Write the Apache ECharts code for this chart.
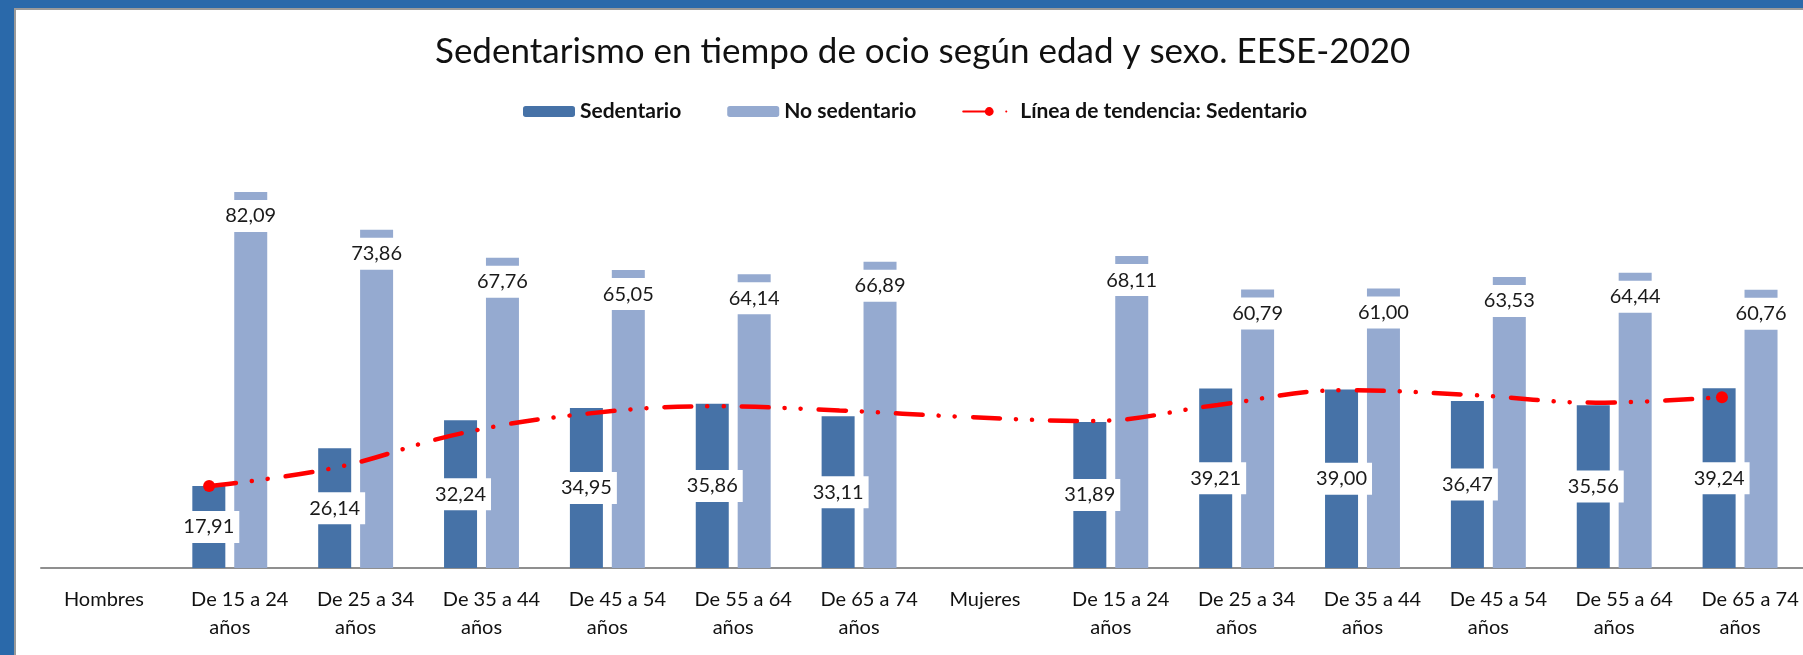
<!DOCTYPE html>
<html lang="es">
<head>
    <meta charset="UTF-8">
    <title>Sedentarismo EESE-2020</title>
    <script src="https://cdn.jsdelivr.net/npm/echarts/dist/echarts.min.js"></script>
    <style>
        html, body { margin: 0; padding: 0; }
        body { width: 1803px; height: 655px; background: #2A69AA; position: relative; overflow: hidden; }
        #main {
            position: absolute; left: 14px; top: 8px;
            width: 1787px; height: 645px;
            background: #fff;
            border-left: 2px solid #9a9a9a; border-top: 2px solid #9a9a9a;
        }
    </style>
</head>
<body>
<div id="main"></div>
<script type="text/javascript">
    // categorias del eje x (el salto de linea separa "años")
    var categorias = ['Hombres', 'De 15 a 24\naños', 'De 25 a 34\naños', 'De 35 a 44\naños', 'De 45 a 54\naños',
        'De 55 a 64\naños', 'De 65 a 74\naños', 'Mujeres', 'De 15 a 24\naños', 'De 25 a 34\naños',
        'De 35 a 44\naños', 'De 45 a 54\naños', 'De 55 a 64\naños', 'De 65 a 74\naños'];
    var sedentario = [null, 17.91, 26.14, 32.24, 34.95, 35.86, 33.11, null, 31.89, 39.21, 39.00, 36.47, 35.56, 39.24];
    var noSedentario = [null, 82.09, 73.86, 67.76, 65.05, 64.14, 66.89, null, 68.11, 60.79, 61.00, 63.53, 64.44, 60.76];
    var tendencia = [null, 17.9, 21.9, 29.4, 33.7, 35.3, 34.4, 33.0, 32.1, 35.6, 38.8, 37.8, 36.1, 37.3];

    var fuente = 'Lato';
    var myChart = echarts.init(document.getElementById('main'));

    function coma(v) {
        return v.toFixed(2).replace('.', ',');
    }

    var primero = tendencia.findIndex(function (v) { return v != null; });
    var ultimo = tendencia.length - 1;

    var etiqueta = {
        show: true,
        color: '#1a1a1a',
        fontFamily: fuente,
        fontSize: 20,
        backgroundColor: '#fff',
        padding: [6, 5, 6, 5],
        formatter: function (p) { return coma(p.value); }
    };

    myChart.setOption({
        animation: false,
        title: {
            text: 'Sedentarismo en tiempo de ocio según edad y sexo. EESE-2020',
            left: 419,
            top: 19,
            padding: [5, 0, 5, 0],
            textStyle: { fontFamily: fuente, fontWeight: 'normal', fontSize: 35, color: '#111' }
        },
        legend: {
            left: 502,
            top: 86,
            itemWidth: 52,
            itemHeight: 11,
            itemGap: 46,
            textStyle: { fontFamily: fuente, fontWeight: 'bold', fontSize: 21, color: '#111' },
            data: ['Sedentario', 'No sedentario', 'Línea de tendencia: Sedentario']
        },
        grid: [
            { left: 25, right: -3, top: 100, bottom: 87, containLabel: false },
            { left: 4, right: 18, top: 100, bottom: 87, containLabel: false }
        ],
        xAxis: [{
            type: 'category',
            gridIndex: 0,
            data: categorias,
            axisTick: { show: false },
            axisLine: { lineStyle: { color: '#8f8f8f', width: 2 } },
            axisLabel: {
                interval: 0,
                margin: 18,
                formatter: function (v) {
                    var partes = v.split('\n');
                    if (partes.length > 1) {
                        return '{a|' + partes[0] + '}\n{b|' + partes[1] + '}';
                    }
                    return '{b|' + v + '}';
                },
                rich: {
                    a: { fontFamily: fuente, fontSize: 20, color: '#111', lineHeight: 28, padding: [0, 0, 0, 20] },
                    b: { fontFamily: fuente, fontSize: 20, color: '#111', lineHeight: 28 }
                }
            }
        }, {
            type: 'category',
            gridIndex: 1,
            data: categorias,
            show: false
        }],
        yAxis: [
            { type: 'value', gridIndex: 0, min: 0, max: 100, show: false, splitLine: { show: false } },
            { type: 'value', gridIndex: 1, min: 0, max: 100, show: false, splitLine: { show: false } }
        ],
        series: [{
            name: 'Sedentario',
            type: 'bar',
            data: sedentario,
            barWidth: 33,
            barGap: '27%',
            itemStyle: { color: '#4672A7' },
            label: Object.assign({}, etiqueta, { position: 'inside' })
        }, {
            name: 'No sedentario',
            type: 'bar',
            data: noSedentario,
            barWidth: 33,
            itemStyle: { color: '#95AAD0' },
            label: Object.assign({}, etiqueta, { position: 'insideTop', distance: 8 })
        }, {
            name: 'Línea de tendencia: Sedentario',
            type: 'line',
            xAxisIndex: 1,
            yAxisIndex: 1,
            data: tendencia,
            smooth: 0.4,
            connectNulls: true,
            symbol: 'circle',
            symbolSize: function (v, p) {
                return (p.dataIndex === primero || p.dataIndex === ultimo) ? 12 : 0;
            },
            itemStyle: { color: '#FF0000' },
            lineStyle: { color: '#FF0000', width: 4.5, cap: 'round', type: [27, 16, 0.1, 16, 0.1, 18] },
            z: 5
        }]
    });
</script>
</body>
</html>
